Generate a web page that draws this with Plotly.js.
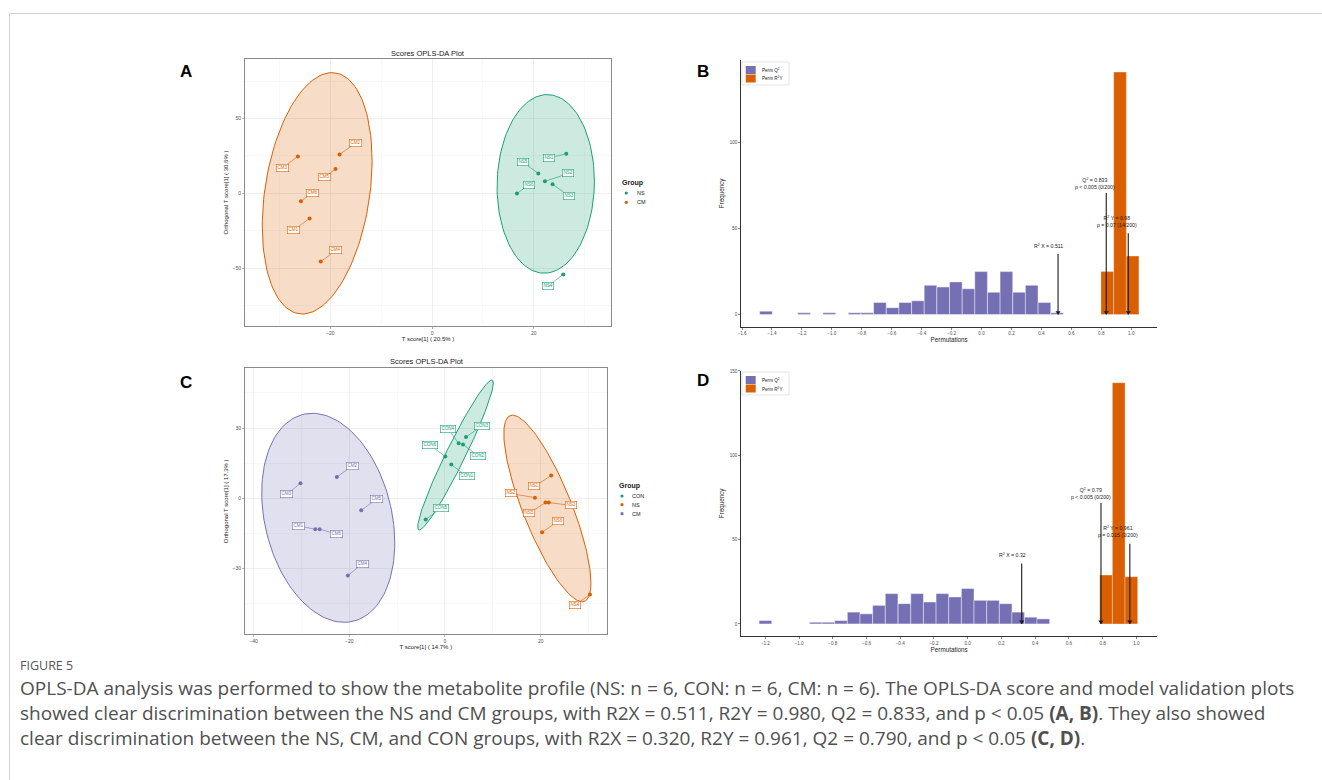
<!DOCTYPE html>
<html>
<head>
<meta charset="utf-8">
<script src="https://cdn.plot.ly/plotly-3.0.1.min.js"></script>
<style>html,body{margin:0;padding:0;background:#fff;}#chart{width:1322px;height:780px;}</style>
</head>
<body>
<div id="chart"></div>
<script>
// ---------------- DATA ----------------
// Panel A: scores (NS vs CM)
const A_CM_names = ['CM1','CM2','CM3','CM4','CM5','CM6'];
const A_CM_t     = [-24.1, -18.2, -26.4, -21.9, -19.0, -25.8];
const A_CM_o     = [-16.9,  26.0,  24.7, -45.6,  16.2,  -5.3];
const A_NS_names = ['NS1','NS2','NS3','NS4','NS5','NS6'];
const A_NS_t     = [26.4, 22.2, 23.7, 25.8, 20.9, 16.7];
const A_NS_o     = [26.4,  8.0,  6.0, -54.2, 13.3, -0.2];

// Panel C: scores (CON vs NS vs CM)
const C_CON_names = ['CON1','CON2','CON3','CON4','CON5','CON6'];
const C_CON_t     = [1.32, 3.76, 4.39, 2.86, -4.04, 0.07];
const C_CON_o     = [14.4, 23.0, 26.2, 23.5, -9.0, 17.9];
const C_NS_names  = ['NS1','NS2','NS3','NS4','NS5','NS6'];
const C_NS_t      = [22.2, 18.8, 21.7, 30.3, 21.0, 20.3];
const C_NS_o      = [9.8, 0.3, -1.8, -41.0, -1.8, -14.5];
const C_CM_names  = ['CM1','CM2','CM3','CM4','CM5','CM6'];
const C_CM_t      = [-27.1, -22.6, -30.2, -20.3, -17.5, -26.2];
const C_CM_o      = [-13.2, 9.1, 6.5, -32.9, -5.1, -13.2];

// Panel B: permutation histograms (bin centre, count)
const B_q2_bin    = [-1.440,-1.186,-1.017,-0.848,-0.764,-0.679,-0.594,-0.510,-0.425,-0.341,-0.256,-0.172,-0.087,-0.003,0.082,0.166,0.251,0.335,0.420,0.504];
const B_q2_count  = [2,1,1,1,1,7,4,7,8,17,16,19,15,25,13,25,13,17,7,1];
const B_r2y_bin   = [0.840, 0.925, 1.009];
const B_r2y_count = [25, 141, 34];
const B_stat_x    = [0.511, 0.833, 0.98];
const B_stat_text = ['R<sup>2</sup> X = 0.511', 'Q<sup>2</sup> = 0.833<br>p < 0.005 (0/200)', 'R<sup>2</sup> Y = 0.98<br>p = 0.07 (14/200)'];

// Panel D
const D_q2_bin    = [-1.199,-0.900,-0.826,-0.751,-0.676,-0.601,-0.526,-0.451,-0.375,-0.300,-0.225,-0.150,-0.075,0.000,0.075,0.150,0.225,0.299,0.374,0.448];
const D_q2_count  = [2,1,1,2,7,6,11,18,12,18,13,18,16,21,14,14,12,7,4,3];
const D_r2y_bin   = [0.820, 0.895, 0.970];
const D_r2y_count = [29, 143, 28];
const D_stat_x    = [0.32, 0.79, 0.961];
const D_stat_text = ['R<sup>2</sup> X = 0.32', 'Q<sup>2</sup> = 0.79<br>p < 0.005 (0/200)', 'R<sup>2</sup> Y = 0.961<br>p = 0.015 (3/200)'];

// ---------------- LAYOUT HELPERS ----------------
const W = 1322, H = 780;
const px = v => v / W;
const py = v => 1 - v / H;
const FONT = 'Liberation Sans, Arial, sans-serif';
const TEAL = '#1B9E77', ORANGE = '#D95F02', PURPLE = '#7570B3';
function rgba(hex, a){const r=parseInt(hex.slice(1,3),16),g=parseInt(hex.slice(3,5),16),b=parseInt(hex.slice(5,7),16);return `rgba(${r},${g},${b},${a})`;}

// label placements (repelled label positions, data units)
const A_CM_lab = [[-27.2,-24.4],[-15.0,33.6],[-29.4,17.1],[-18.9,-38.2],[-21.2,10.7],[-23.6,0.2]];
const A_NS_lab = [[23.1,23.8],[26.8,13.3],[26.9,-1.6],[22.8,-62.0],[17.9,20.7],[19.0,5.6]];
const C_CON_lab = [[4.6,9.4],[6.97,18.1],[7.8,31.0],[0.7,29.4],[-0.84,-4.3],[-3.07,22.6]];
const C_NS_lab  = [[18.7,5.1],[13.7,2.1],[26.3,-3.0],[27.1,-45.7],[17.6,-6.4],[23.6,-9.8]];
const C_CM_lab  = [[-30.6,-11.7],[-19.4,13.8],[-33.1,1.7],[-17.2,-27.9],[-14.3,-0.3],[-22.6,-15.1]];

// confidence ellipses: centre, half extents, tilt
const ellA_CM  = {cx:-22.6, cy:0.0,  hx:10.8, hy:80.7, rho:0.27};
const ellA_NS  = {cx:22.36, cy:6.3,  hx:9.57, hy:59.7, rho:0.03};
const ellC_CM  = {cx:-24.4, cy:-8.3, hx:13.9, hy:44.6, rho:-0.24};
const ellC_CON = {cx:2.2,   cy:18.5, hx:7.9,  hy:32.0, rho:0.96};
const ellC_NS  = {cx:21.4,  cy:-4.3, hx:9.1,  hy:39.8, rho:-0.80};

function ellipseTrace(e, color, xa, ya){
  const xs=[], ys=[], n=140, s=Math.sqrt(1-e.rho*e.rho);
  for(let i=0;i<=n;i++){const t=2*Math.PI*i/n; xs.push(e.cx+e.hx*Math.cos(t)); ys.push(e.cy+e.hy*(e.rho*Math.cos(t)+s*Math.sin(t)));}
  return {type:'scatter', mode:'lines', x:xs, y:ys, fill:'toself', fillcolor:rgba(color,0.22), line:{color:color,width:1}, xaxis:xa, yaxis:ya, showlegend:false, hoverinfo:'skip'};
}
function pointTrace(name, xs, ys, color, xa, ya){
  return {type:'scatter', mode:'markers', name:name, x:xs, y:ys, marker:{color:color,size:4}, xaxis:xa, yaxis:ya, showlegend:false};
}
const annotations = [];
const shapes = [];
function labels(names, xs, ys, lab, color, xa, ya){
  names.forEach((n,i)=>annotations.push({x:xs[i], y:ys[i], xref:xa, yref:ya, ax:lab[i][0], ay:lab[i][1], axref:xa, ayref:ya,
    text:n, showarrow:true, arrowhead:0, arrowwidth:0.6, arrowcolor:color, standoff:1.5,
    font:{family:FONT,size:4.6,color:color}, bgcolor:'#ffffff', bordercolor:color, borderwidth:0.6, borderpad:0.8}));
}
// paper annotation helper (explicit anchors)
function paperText(x, y, text, font, xanchor){
  annotations.push({x:px(x), y:py(y), xref:'paper', yref:'paper', xanchor:xanchor||'center', yanchor:'middle', text:text, showarrow:false, font:font});
}

const traces = [
  ellipseTrace(ellA_CM, ORANGE, 'x', 'y'),
  ellipseTrace(ellA_NS, TEAL, 'x', 'y'),
  pointTrace('NS', A_NS_t, A_NS_o, TEAL, 'x', 'y'),
  pointTrace('CM', A_CM_t, A_CM_o, ORANGE, 'x', 'y'),
  {type:'bar', name:'Perm Q²', x:B_q2_bin, y:B_q2_count, width:0.0845, marker:{color:PURPLE, line:{color:'rgba(255,255,255,0.7)',width:0.6}}, xaxis:'x2', yaxis:'y2', showlegend:false},
  {type:'bar', name:'Perm R²Y', x:B_r2y_bin, y:B_r2y_count, width:0.0845, marker:{color:ORANGE, line:{color:'rgba(255,255,255,0.5)',width:0.6}}, xaxis:'x2', yaxis:'y2', showlegend:false},
  ellipseTrace(ellC_CM, PURPLE, 'x3', 'y3'),
  ellipseTrace(ellC_CON, TEAL, 'x3', 'y3'),
  ellipseTrace(ellC_NS, ORANGE, 'x3', 'y3'),
  pointTrace('CON', C_CON_t, C_CON_o, TEAL, 'x3', 'y3'),
  pointTrace('NS', C_NS_t, C_NS_o, ORANGE, 'x3', 'y3'),
  pointTrace('CM', C_CM_t, C_CM_o, PURPLE, 'x3', 'y3'),
  {type:'bar', name:'Perm Q²', x:D_q2_bin, y:D_q2_count, width:0.075, marker:{color:PURPLE, line:{color:'rgba(255,255,255,0.7)',width:0.6}}, xaxis:'x4', yaxis:'y4', showlegend:false},
  {type:'bar', name:'Perm R²Y', x:D_r2y_bin, y:D_r2y_count, width:0.075, marker:{color:ORANGE, line:{color:'rgba(255,255,255,0.5)',width:0.6}}, xaxis:'x4', yaxis:'y4', showlegend:false}
];

labels(A_CM_names, A_CM_t, A_CM_o, A_CM_lab, ORANGE, 'x', 'y');
labels(A_NS_names, A_NS_t, A_NS_o, A_NS_lab, TEAL, 'x', 'y');
labels(C_CON_names, C_CON_t, C_CON_o, C_CON_lab, TEAL, 'x3', 'y3');
labels(C_NS_names, C_NS_t, C_NS_o, C_NS_lab, ORANGE, 'x3', 'y3');
labels(C_CM_names, C_CM_t, C_CM_o, C_CM_lab, PURPLE, 'x3', 'y3');

// permutation stat arrows (lines + arrow heads) and labels
function statArrows(xsArr, texts, tops, headY, labX, labY, xa, ya){
  xsArr.forEach((v,i)=>{
    traces.push({type:'scatter', mode:'lines', x:[v,v], y:[tops[i],0], line:{color:'#1a1a1a',width:1.1}, xaxis:xa, yaxis:ya, showlegend:false, hoverinfo:'skip'});
    traces.push({type:'scatter', mode:'markers', x:[v], y:[headY], marker:{symbol:'triangle-down', size:4.5, color:'#1a1a1a'}, xaxis:xa, yaxis:ya, showlegend:false, hoverinfo:'skip'});
    annotations.push({x:labX[i], y:labY[i], xref:xa, yref:ya, xanchor:'center', yanchor:'middle', text:texts[i], showarrow:false, align:'center',
      font:{family:FONT,size:5.2,color:'#1a1a1a'}});
  });
}
statArrows(B_stat_x, B_stat_text, [35.3,70.7,47.3], 1.3, [0.445,0.757,0.905], [40.1,76.2,54.2], 'x2', 'y2');
statArrows(D_stat_x, D_stat_text, [35.8,71.7,47.6], 1.3, [0.266,0.728,0.89], [40.7,77.2,55.0], 'x4', 'y4');

// panel titles
paperText(428.3, 54, 'Scores OPLS-DA Plot', {family:FONT,size:7.5,color:'#1a1a1a'});
paperText(426.7, 361, 'Scores OPLS-DA Plot', {family:FONT,size:7.5,color:'#1a1a1a'});

// panel letters
[['A',186,71],['B',703,71],['C',186,382],['D',703,380]].forEach(l=>paperText(l[1], l[2], '<b>'+l[0]+'</b>', {family:FONT,size:17,color:'#000'}));

// group legends (A and C)
function groupLegend(x0, yTitle, items, dotX, textX, ys){
  paperText(x0, yTitle, '<b>Group</b>', {family:FONT,size:7,color:'#1a1a1a'}, 'left');
  items.forEach((it,i)=>{
    shapes.push({type:'circle', xref:'paper', yref:'paper', x0:px(dotX-1.6), x1:px(dotX+1.6), y0:py(ys[i]+1.6), y1:py(ys[i]-1.6), fillcolor:it[1], line:{width:0}});
    paperText(textX, ys[i], it[0], {family:FONT,size:5.5,color:'#1a1a1a'}, 'left');
  });
}
groupLegend(620, 183, [['NS',TEAL],['CM',ORANGE]], 626.3, 634.5, [193, 202.3]);
groupLegend(617, 486.3, [['CON',TEAL],['NS',ORANGE],['CM',PURPLE]], 622, 630, [496, 504.7, 513.7]);

// permutation legends (B and D)
function permLegend(top){
  shapes.push({type:'rect', xref:'paper', yref:'paper', x0:px(742), x1:px(789), y0:py(top+23), y1:py(top), fillcolor:'#fff', line:{color:'#d9d9d9',width:0.7}});
  shapes.push({type:'rect', xref:'paper', yref:'paper', x0:px(745.7), x1:px(755.7), y0:py(top+12), y1:py(top+4), fillcolor:PURPLE, line:{width:0}});
  shapes.push({type:'rect', xref:'paper', yref:'paper', x0:px(745.7), x1:px(755.7), y0:py(top+20.5), y1:py(top+12.5), fillcolor:ORANGE, line:{width:0}});
  paperText(760, top+8, 'Perm Q<sup>2</sup>', {family:FONT,size:4.6,color:'#1a1a1a'}, 'left');
  paperText(760, top+16.5, 'Perm R<sup>2</sup>Y', {family:FONT,size:4.6,color:'#1a1a1a'}, 'left');
}
permLegend(62);
permLegend(372);

// page frame
shapes.push({type:'rect', xref:'paper', yref:'paper', x0:px(9.5), x1:1.05, y0:-0.05, y1:py(13.5), line:{color:'#cfcfcf',width:1}, layer:'below'});

// caption
const CAP = {family:'Open Sans, Liberation Sans, sans-serif', size:19, color:'#505050'};
paperText(18, 665, 'FIGURE 5', {family:CAP.family,size:12.5,color:'#555'}, 'left');
const capLines = [
  'OPLS-DA analysis was performed to show the metabolite profile (NS: n = 6, CON: n = 6, CM: n = 6). The OPLS-DA score and model validation plots',
  'showed clear discrimination between the NS and CM groups, with R2X = 0.511, R2Y = 0.980, Q2 = 0.833, and p < 0.05 <b>(A, B)</b>. They also showed',
  'clear discrimination between the NS, CM, and CON groups, with R2X = 0.320, R2Y = 0.961, Q2 = 0.790, and p < 0.05 <b>(C, D)</b>.'
];
capLines.forEach((t,i)=>paperText(18, 688+25*i, t, CAP, 'left'));

// axes
const scoreAxis = (o)=>Object.assign({showgrid:true, gridcolor:'#ebebeb', gridwidth:0.8, zeroline:false, showline:true, mirror:true, linecolor:'#8a8a8a', linewidth:1,
  ticks:'outside', ticklen:2, tickwidth:0.6, tickcolor:'#8a8a8a', tickfont:{family:FONT,size:5,color:'#4d4d4d'}}, o);
const histAxis = (o)=>Object.assign({showgrid:false, zeroline:false, showline:true, mirror:false, linecolor:'#333', linewidth:1,
  ticks:'outside', ticklen:2, tickwidth:0.6, tickcolor:'#333', tickfont:{family:FONT,size:4.6,color:'#4d4d4d'}}, o);

const layout = {
  width:W, height:H, margin:{l:0,r:0,t:0,b:0}, paper_bgcolor:'#fff', plot_bgcolor:'#fff', showlegend:false,
  font:{family:FONT}, barmode:'overlay', bargap:0,
  xaxis: scoreAxis({domain:[px(245),px(611)], range:[-36.8,35.2], anchor:'y', tick0:0, dtick:20,
    minor:{dtick:10, tick0:0, showgrid:true, gridcolor:'#f4f4f4', gridwidth:0.6},
    title:{text:'T score[1] ( 20.5% )', font:{family:FONT,size:6,color:'#1a1a1a'}, standoff:1}}),
  yaxis: scoreAxis({domain:[py(326),py(59)], range:[-88.7,89.8], anchor:'x', tick0:0, dtick:50,
    minor:{dtick:25, tick0:0, showgrid:true, gridcolor:'#f4f4f4', gridwidth:0.6},
    title:{text:'Orthogonal T score[1] ( 30.6% )', font:{family:FONT,size:6,color:'#1a1a1a'}, standoff:3}}),
  xaxis2: histAxis({domain:[px(741.3),px(1157)], range:[-1.605,1.172], anchor:'y2', tick0:0, dtick:0.2, tickformat:'.1f',
    title:{text:'Permutations', font:{family:FONT,size:6.3,color:'#1a1a1a'}, standoff:1}}),
  yaxis2: histAxis({domain:[py(326.7),py(60)], range:[-7.05,148.05], anchor:'x2', tick0:0, dtick:50,
    title:{text:'Frequency', font:{family:FONT,size:6.3,color:'#1a1a1a'}, standoff:4}}),
  xaxis3: scoreAxis({domain:[px(245),px(606.7)], range:[-41.8,33.8], anchor:'y3', tick0:0, dtick:20,
    minor:{dtick:10, tick0:0, showgrid:true, gridcolor:'#f4f4f4', gridwidth:0.6},
    title:{text:'T score[1] ( 14.7% )', font:{family:FONT,size:6,color:'#1a1a1a'}, standoff:1}}),
  yaxis3: scoreAxis({domain:[py(634.3),py(368.3)], range:[-58.0,55.5], anchor:'x3', tick0:0, dtick:30,
    minor:{dtick:15, tick0:0, showgrid:true, gridcolor:'#f4f4f4', gridwidth:0.6},
    title:{text:'Orthogonal T score[1] ( 17.3% )', font:{family:FONT,size:6,color:'#1a1a1a'}, standoff:3}}),
  xaxis4: histAxis({domain:[px(741.3),px(1157)], range:[-1.342,1.122], anchor:'y4', tick0:0, dtick:0.2, tickformat:'.1f',
    title:{text:'Permutations', font:{family:FONT,size:6.3,color:'#1a1a1a'}, standoff:1}}),
  yaxis4: histAxis({domain:[py(636),py(370.7)], range:[-7.15,150.15], anchor:'x4', tick0:0, dtick:50,
    title:{text:'Frequency', font:{family:FONT,size:6.3,color:'#1a1a1a'}, standoff:4}}),
  annotations: annotations,
  shapes: shapes
};

Plotly.newPlot('chart', traces, layout, {displayModeBar:false, staticPlot:true});
</script>
</body>
</html>
